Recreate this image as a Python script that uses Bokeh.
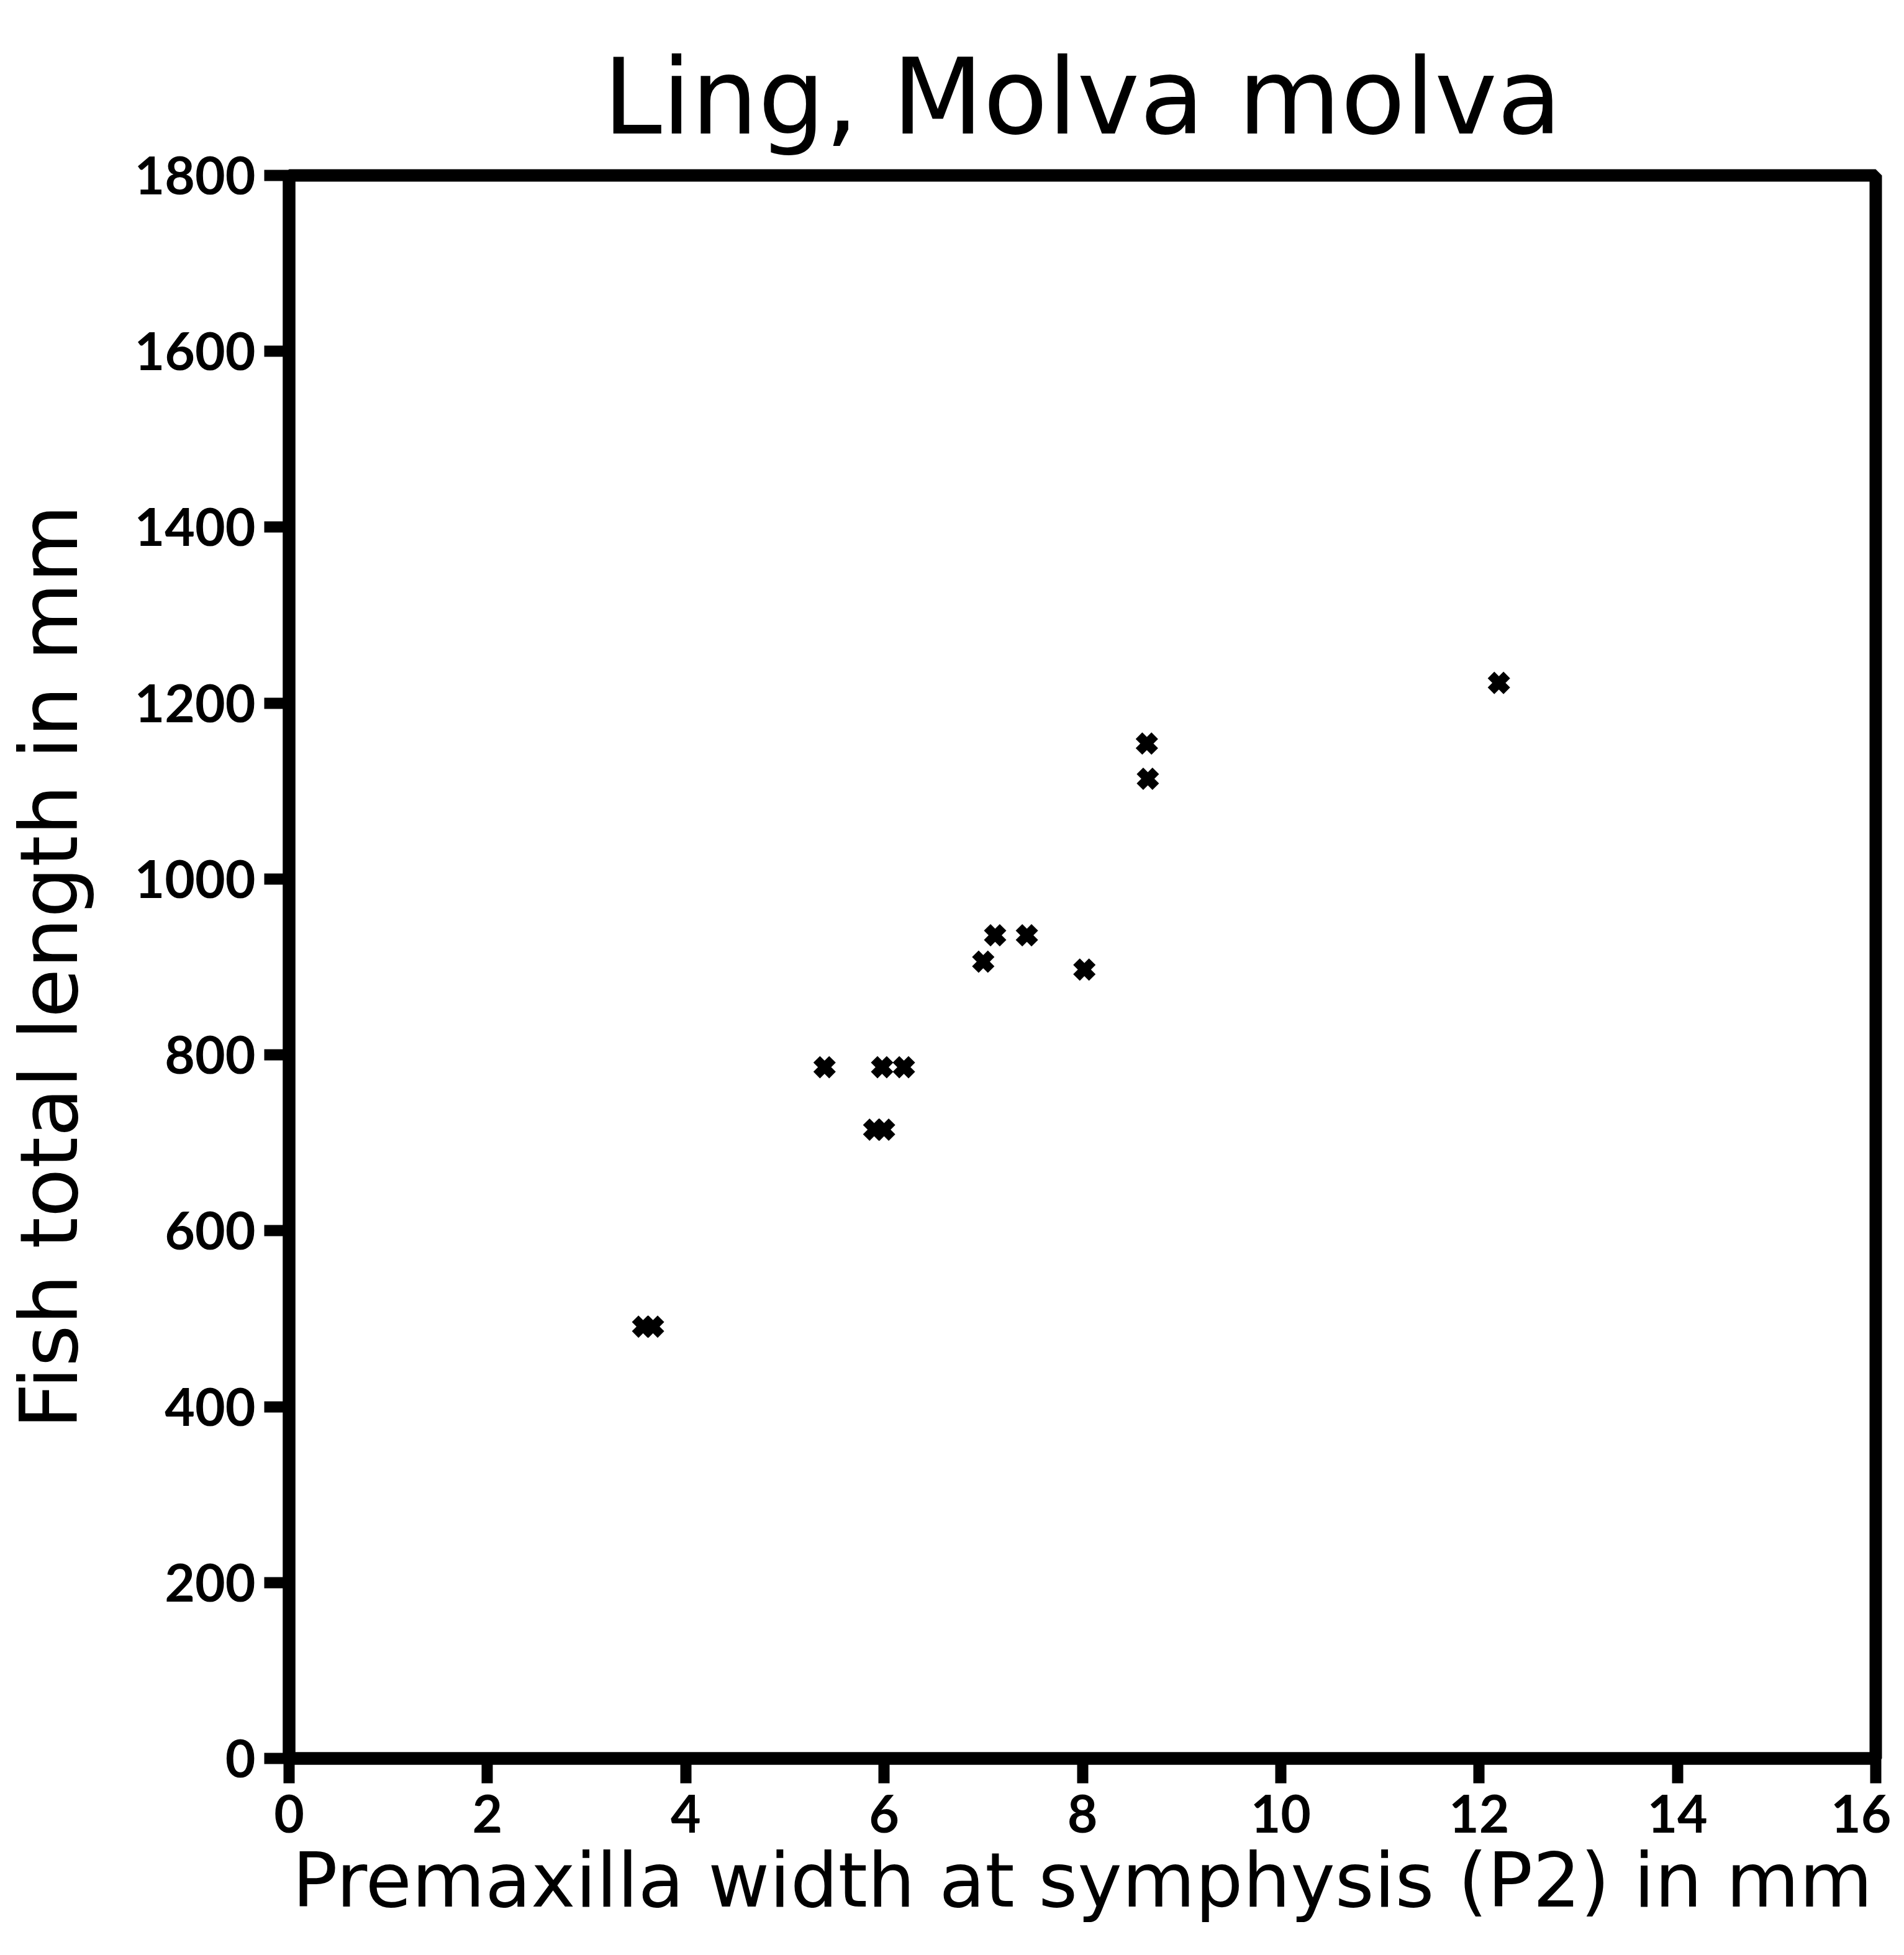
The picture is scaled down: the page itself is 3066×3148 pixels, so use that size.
from bokeh.plotting import figure
from bokeh.models import Range1d, FixedTicker
from bokeh.embed import file_html
from bokeh.resources import INLINE

# ---- chart data ----
title_text = "Ling, Molva molva"
x_label = "Premaxilla width at symphysis (P2) in mm"
y_label = "Fish total length in mm"
x_ticks = [0, 2, 4, 6, 8, 10, 12, 14, 16]
y_ticks = [0, 200, 400, 600, 800, 1000, 1200, 1400, 1600, 1800]

premaxilla_width = [3.57, 3.67, 5.4, 5.98, 6.2, 5.9, 6.0, 7.0, 7.12, 7.44, 8.02, 8.65, 8.66, 12.2]
fish_length = [491, 491, 786, 786, 786, 715, 715, 906, 936, 936, 897, 1154, 1114, 1223]

p = figure(
    frame_width=2555, frame_height=2549,
    x_range=Range1d(0, 16), y_range=Range1d(0, 1800),
    output_backend="svg", toolbar_location=None,
    min_border_left=458, min_border_top=282, min_border_right=25, min_border_bottom=0,
    background_fill_color="white", border_fill_color="white",
)

p.title.text = title_text
p.title.align = "center"
p.title.text_font = "DejaVu Sans"
p.title.text_font_style = "normal"
p.title.text_font_size = "170px"
p.title.text_color = "black"
p.title.standoff = 55

p.outline_line_color = "black"
p.outline_line_width = 20
p.outline_line_alpha = 1.0

p.xgrid.visible = False
p.ygrid.visible = False

for ax, ticks in ((p.xaxis, x_ticks), (p.yaxis, y_ticks)):
    ax.ticker = FixedTicker(ticks=ticks)
    ax.axis_line_width = 20
    ax.axis_line_color = "black"
    ax.major_tick_line_width = 18
    ax.major_tick_line_color = "black"
    ax.major_tick_out = 40
    ax.major_tick_in = 0
    ax.minor_tick_line_color = None
    ax.major_label_text_font = "Lato"
    ax.major_label_text_font_style = "bold"
    ax.major_label_text_font_size = "84px"
    ax.major_label_text_color = "black"
    ax.axis_label_text_font = "DejaVu Sans"
    ax.axis_label_text_font_style = "normal"
    ax.axis_label_text_color = "black"

p.xaxis.axis_label = x_label
p.yaxis.axis_label = y_label
p.xaxis.axis_label_text_font_size = "121px"
p.yaxis.axis_label_text_font_size = "129px"
p.xaxis.major_label_standoff = 18
p.yaxis.major_label_standoff = 14
p.xaxis.axis_label_standoff = 4
p.yaxis.axis_label_standoff = 60

p.scatter(premaxilla_width, fish_length, marker="x", size=36,
          line_width=15, line_color="black")

open("out.html", "w").write(file_html(p, INLINE))
